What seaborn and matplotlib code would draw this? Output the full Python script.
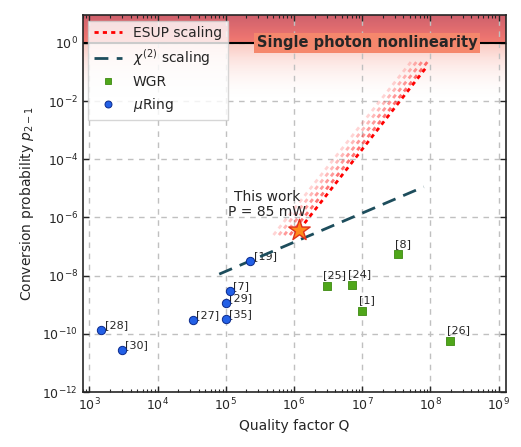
import numpy as np
import pandas as pd
import seaborn as sns
import matplotlib.pyplot as plt
from matplotlib.lines import Line2D
from matplotlib.ticker import NullLocator

# micro-ring resonators
ring_q = [1.5e3, 3.0e3, 3.3e4, 1.0e5, 1.0e5, 1.15e5, 2.3e5]
ring_p = [1.4e-10, 2.7e-11, 2.9e-10, 3.2e-10, 1.15e-9, 2.9e-9, 3.2e-8]
ring_ref = ['[28]', '[30]', '[27]', '[35]', '[29]', '[7]', '[19]']

# whispering gallery resonators
wgr_q = [3.0e6, 7.0e6, 1.0e7, 3.4e7, 1.95e8]
wgr_p = [4.4e-9, 4.9e-9, 6.1e-10, 5.4e-8, 5.9e-11]
wgr_ref = ['[25]', '[24]', '[1]', '[8]', '[26]']

chi2_q = [8e4, 8e7]
chi2_p = [1.13e-8, 1.13e-5]

esup_q = [1.2e6, 8.7e7]
esup_p = [3.8e-7, 0.145]
# faded copies of the ESUP line, start and end points
fan_q0 = [8.7e5, 7.2e5, 6.0e5, 5.0e5]
fan_p0 = [2.5e-7, 2.5e-7, 2.5e-7, 2.5e-7]
fan_q1 = [9.4e7, 7.8e7, 6.5e7, 5.4e7]
fan_p1 = [0.25, 0.25, 0.25, 0.25]
fan_alpha = [0.55, 0.4, 0.28, 0.17]

this_q = [1.2e6]
this_p = [3.8e-7]

sns.set_style('ticks')
plt.rcParams['font.family'] = ['DejaVu Sans']

fig = plt.figure(figsize=(5.21, 4.47), dpi=100)
ax = fig.add_subplot(111)
fig.subplots_adjust(left=0.159, right=0.971, bottom=0.123, top=0.966)
ax.set_xscale('log')
ax.set_yscale('log')
ax.set_xlim(8e2, 1.28e9)
ax.set_ylim(1e-12, 9)

# red gradient: strong above p = 1, fading out below
n = 60
for i in range(n):
  lo = 10 ** (-2 + 2 * i / n)
  hi = 10 ** (-2 + 2 * (i + 1) / n)
  ax.axhspan(lo, hi, color='#f2654e', alpha=0.34 * ((i + 1) / n) ** 2, lw=0, zorder=0)
for i in range(n):
  lo = 10 ** (i / n)
  hi = 10 ** ((i + 1) / n)
  f = i / n
  col = (0.95 - 0.17 * f, 0.42 - 0.12 * f, 0.38 - 0.02 * f)
  ax.axhspan(lo, hi, color=col, alpha=0.9, lw=0, zorder=0)

ax.axhline(1, color='k', lw=1.5, zorder=2)
ax.text(1.17e7, 1, 'Single photon nonlinearity', ha='center', va='center',
        fontsize=10.5, fontweight='bold', zorder=3,
        bbox=dict(boxstyle='square,pad=0.2', fc='#f5876c', ec='none'))

# scaling lines
for q0, p0, q1, p1, a in zip(fan_q0, fan_p0, fan_q1, fan_p1, fan_alpha):
  sns.lineplot(x=[q0, q1], y=[p0, p1], ax=ax, color='red', alpha=a, lw=2,
               linestyle=(0, (1.5, 1.5)), zorder=3)
sns.lineplot(x=esup_q, y=esup_p, ax=ax, color='red', lw=2,
             linestyle=(0, (1.5, 1.5)), zorder=4)
sns.lineplot(x=chi2_q, y=chi2_p, ax=ax, color='#1d4d5c', lw=2,
             linestyle=(0, (5, 3)), zorder=4)

# data points
sns.scatterplot(x=wgr_q, y=wgr_p, ax=ax, marker='s', s=36, color='#4fa61a',
                edgecolor='#3d8a12', linewidth=0.6, zorder=5)
sns.scatterplot(x=ring_q, y=ring_p, ax=ax, marker='o', s=36, color='#2360e6',
                edgecolor='#0b2a8c', linewidth=0.7, zorder=5)
sns.scatterplot(x=this_q, y=this_p, ax=ax, marker='*', s=260, color='#ff8a1c',
                edgecolor='#e0301a', linewidth=1, zorder=6)

for q, p, r in zip(ring_q, ring_p, ring_ref):
  ax.annotate(r, (q, p), xytext=(2.5, 3.5), textcoords='offset points',
              ha='left', va='center', fontsize=8)
for q, p, r in zip(wgr_q, wgr_p, wgr_ref):
  ax.annotate(r, (q, p), xytext=(-2.5, 4), textcoords='offset points',
              ha='left', va='bottom', fontsize=8)

ax.text(4e5, 2.7e-6, 'This work\nP = 85 mW', ha='center', va='center',
        fontsize=10, linespacing=1.1)

ax.set_yticks([10.0 ** k for k in range(0, -13, -2)])
ax.yaxis.set_minor_locator(NullLocator())
ax.tick_params(which='both', direction='in', top=True, right=True, labelsize=9)
ax.tick_params(which='major', length=4, width=1)
ax.tick_params(which='minor', length=2, width=0.8)
for s in ax.spines.values():
  s.set_linewidth(1.2)
ax.grid(True, which='major', color='#c0c0c0', linestyle=(0, (4, 4)), lw=1)

ax.set_xlabel('Quality factor Q', fontsize=10)
ax.set_ylabel('Conversion probability $p_{2-1}$', fontsize=10)

handles = [
  Line2D([], [], color='red', lw=2, linestyle=(0, (1.5, 1.5))),
  Line2D([], [], color='#1d4d5c', lw=2, linestyle=(0, (5, 3))),
  Line2D([], [], color='#4fa61a', marker='s', markersize=5, lw=0,
         markeredgecolor='#3d8a12', markeredgewidth=0.6),
  Line2D([], [], color='#2360e6', marker='o', markersize=5, lw=0,
         markeredgecolor='#0b2a8c', markeredgewidth=0.7),
]
labels = ['ESUP scaling', r'$\chi^{(2)}$ scaling', 'WGR', r'$\mu$Ring']
leg = ax.legend(handles, labels, loc='upper left', fontsize=10, frameon=True,
                framealpha=0.8, edgecolor='#cccccc', fancybox=False,
                borderaxespad=0.4)
leg.set_zorder(10)

plt.savefig('out.png', dpi=100)
